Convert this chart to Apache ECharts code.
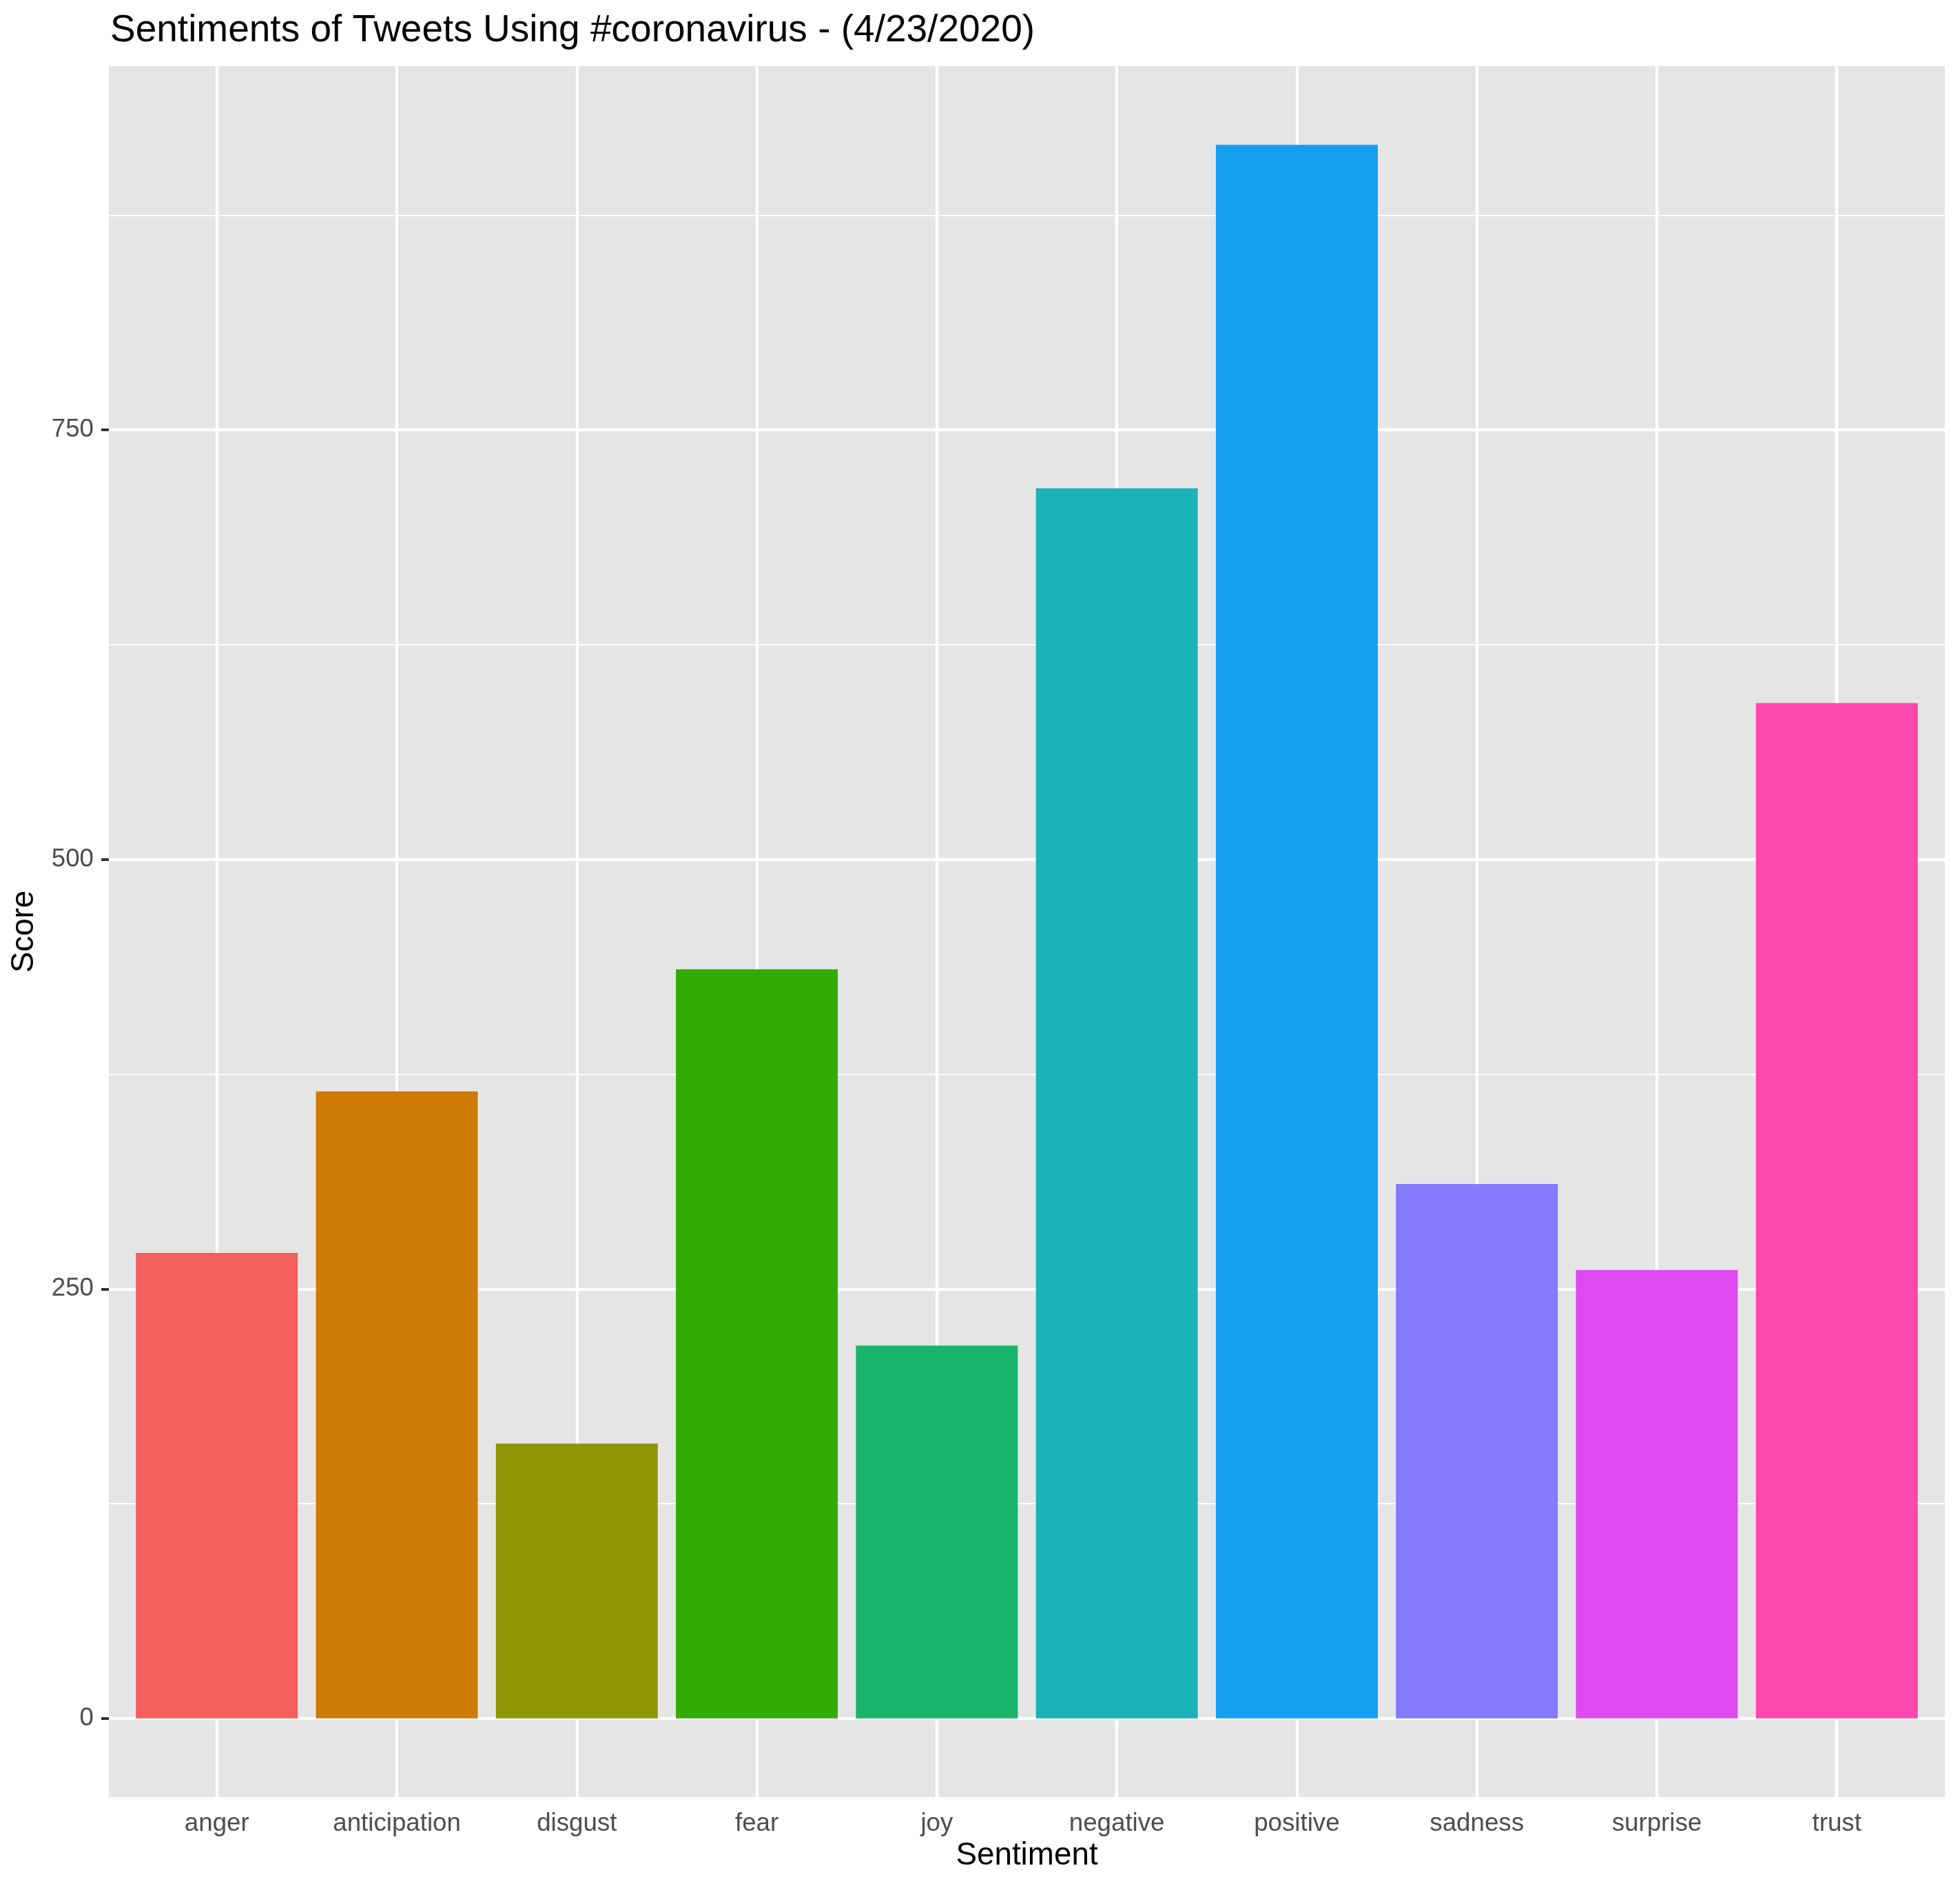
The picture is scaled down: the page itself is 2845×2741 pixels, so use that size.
<!DOCTYPE html>
<html>
<head>
<meta charset="utf-8">
<script src="https://cdn.jsdelivr.net/npm/echarts@6/dist/echarts.min.js"></script>
<style>
html,body{margin:0;padding:0;background:#fff;}
#chart{width:2845px;height:2741px;}
</style>
</head>
<body>
<div id="chart"></div>
<script>
const categories = ['anger','anticipation','disgust','fear','joy','negative','positive','sadness','surprise','trust'];
const scores = [271, 365, 160, 436, 217, 716, 916, 311, 261, 591];
const barColors = ['#F25F5C','#CE7C07','#919807','#32AC03','#19B46A','#1AB3B7','#169FF0','#837AFE','#DE4BF0','#FC46B0'];
const yMajorTicks = [0, 250, 500, 750];
const yMinorTicks = [125, 375, 625, 875];
const xPositions = categories.map((c, i) => i + 1);

const FONT = 'Liberation Sans, Arial, sans-serif';
const maxV = Math.max(...scores);
const yMin = -0.05 * maxV, yMax = maxV * 1.05;

const chart = echarts.init(document.getElementById('chart'), null, {renderer: 'canvas'});

const gridLines = [];
yMajorTicks.forEach(v => gridLines.push({yAxis: v, lineStyle: {width: 4.3}}));
yMinorTicks.forEach(v => gridLines.push({yAxis: v, lineStyle: {width: 2.2}}));
xPositions.forEach(v => gridLines.push({xAxis: v, lineStyle: {width: 4.3}}));

chart.setOption({
  animation: false,
  backgroundColor: '#ffffff',
  title: {
    text: 'Sentiments of Tweets Using #coronavirus - (4/23/2020)',
    left: 155, top: 12,
    textStyle: {fontFamily: FONT, fontSize: 55, fontWeight: 'normal', color: '#000000'}
  },
  grid: {
    left: 158, right: 22, top: 96, bottom: 132,
    show: true, backgroundColor: '#E5E5E5', borderWidth: 0
  },
  xAxis: {
    type: 'value', min: 0.4, max: 10.6,
    name: 'Sentiment', nameLocation: 'middle', nameGap: 58,
    nameTextStyle: {fontFamily: FONT, fontSize: 45.8, color: '#000000'},
    axisLine: {show: false},
    splitLine: {show: false},
    axisTick: {show: true, customValues: xPositions, length: 12, lineStyle: {color: '#333333', width: 4}},
    axisLabel: {
      customValues: xPositions, margin: 20,
      formatter: v => categories[Math.round(v) - 1] || '',
      fontFamily: FONT, fontSize: 36.7, color: '#4D4D4D'
    }
  },
  yAxis: {
    type: 'value', min: yMin, max: yMax,
    name: 'Score', nameLocation: 'middle', nameGap: 100, nameRotate: 90,
    nameTextStyle: {fontFamily: FONT, fontSize: 45.8, color: '#000000'},
    axisLine: {show: false},
    splitLine: {show: false},
    axisTick: {show: true, customValues: yMajorTicks, length: 11, lineStyle: {color: '#333333', width: 4}},
    axisLabel: {
      customValues: yMajorTicks, margin: 22,
      fontFamily: FONT, fontSize: 36.7, color: '#4D4D4D'
    }
  },
  series: [
    {
      type: 'line', data: [], z: 1, silent: true,
      markLine: {
        z: 1,
        silent: true, symbol: ['none', 'none'], animation: false,
        label: {show: false},
        lineStyle: {color: '#ffffff', type: 'solid', width: 4.3},
        emphasis: {disabled: true},
        data: gridLines
      }
    },
    {
      type: 'bar', z: 10, barWidth: 235,
      data: scores.map((v, i) => ({value: [xPositions[i], v], itemStyle: {color: barColors[i]}}))
    }
  ]
});
</script>
</body>
</html>
